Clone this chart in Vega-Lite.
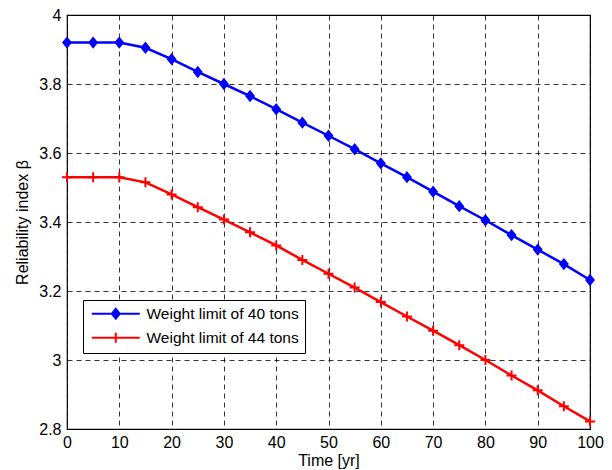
{
  "$schema": "https://vega.github.io/schema/vega-lite/v6.json",
  "width": 523,
  "height": 414,
  "autosize": "none",
  "padding": {"left": 67, "top": 15, "right": 22, "bottom": 41},
  "background": "white",
  "config": {
    "font": "Liberation Sans",
    "view": {"stroke": "black", "strokeWidth": 1.2}
  },
  "data": {
    "values": [
      {"t": 0, "beta": 3.92, "series": "Weight limit of 40 tons"},
      {"t": 5, "beta": 3.92, "series": "Weight limit of 40 tons"},
      {"t": 10, "beta": 3.92, "series": "Weight limit of 40 tons"},
      {"t": 15, "beta": 3.905, "series": "Weight limit of 40 tons"},
      {"t": 20, "beta": 3.872, "series": "Weight limit of 40 tons"},
      {"t": 25, "beta": 3.835, "series": "Weight limit of 40 tons"},
      {"t": 30, "beta": 3.80, "series": "Weight limit of 40 tons"},
      {"t": 35, "beta": 3.765, "series": "Weight limit of 40 tons"},
      {"t": 40, "beta": 3.727, "series": "Weight limit of 40 tons"},
      {"t": 45, "beta": 3.688, "series": "Weight limit of 40 tons"},
      {"t": 50, "beta": 3.65, "series": "Weight limit of 40 tons"},
      {"t": 55, "beta": 3.611, "series": "Weight limit of 40 tons"},
      {"t": 60, "beta": 3.57, "series": "Weight limit of 40 tons"},
      {"t": 65, "beta": 3.53, "series": "Weight limit of 40 tons"},
      {"t": 70, "beta": 3.488, "series": "Weight limit of 40 tons"},
      {"t": 75, "beta": 3.446, "series": "Weight limit of 40 tons"},
      {"t": 80, "beta": 3.405, "series": "Weight limit of 40 tons"},
      {"t": 85, "beta": 3.362, "series": "Weight limit of 40 tons"},
      {"t": 90, "beta": 3.32, "series": "Weight limit of 40 tons"},
      {"t": 95, "beta": 3.278, "series": "Weight limit of 40 tons"},
      {"t": 100, "beta": 3.232, "series": "Weight limit of 40 tons"},
      {"t": 0, "beta": 3.53, "series": "Weight limit of 44 tons"},
      {"t": 5, "beta": 3.53, "series": "Weight limit of 44 tons"},
      {"t": 10, "beta": 3.53, "series": "Weight limit of 44 tons"},
      {"t": 15, "beta": 3.515, "series": "Weight limit of 44 tons"},
      {"t": 20, "beta": 3.48, "series": "Weight limit of 44 tons"},
      {"t": 25, "beta": 3.443, "series": "Weight limit of 44 tons"},
      {"t": 30, "beta": 3.407, "series": "Weight limit of 44 tons"},
      {"t": 35, "beta": 3.37, "series": "Weight limit of 44 tons"},
      {"t": 40, "beta": 3.332, "series": "Weight limit of 44 tons"},
      {"t": 45, "beta": 3.29, "series": "Weight limit of 44 tons"},
      {"t": 50, "beta": 3.25, "series": "Weight limit of 44 tons"},
      {"t": 55, "beta": 3.21, "series": "Weight limit of 44 tons"},
      {"t": 60, "beta": 3.168, "series": "Weight limit of 44 tons"},
      {"t": 65, "beta": 3.126, "series": "Weight limit of 44 tons"},
      {"t": 70, "beta": 3.085, "series": "Weight limit of 44 tons"},
      {"t": 75, "beta": 3.043, "series": "Weight limit of 44 tons"},
      {"t": 80, "beta": 3.0, "series": "Weight limit of 44 tons"},
      {"t": 85, "beta": 2.955, "series": "Weight limit of 44 tons"},
      {"t": 90, "beta": 2.912, "series": "Weight limit of 44 tons"},
      {"t": 95, "beta": 2.866, "series": "Weight limit of 44 tons"},
      {"t": 100, "beta": 2.822, "series": "Weight limit of 44 tons"}
    ]
  },
  "encoding": {
    "x": {
      "field": "t",
      "type": "quantitative",
      "scale": {"domain": [0, 100], "nice": false},
      "axis": {
        "values": [0, 10, 20, 30, 40, 50, 60, 70, 80, 90, 100],
        "title": "Time [yr]",
        "grid": true,
        "gridDash": [5, 4],
        "gridColor": "black",
        "gridOpacity": 0.8,
        "gridWidth": 1,
        "ticks": false,
        "domain": false,
        "labelFontSize": 16,
        "labelColor": "black",
        "labelPadding": 5,
        "labelFlush": false,
        "titleFontSize": 16,
        "titleFontWeight": "normal",
        "titleColor": "black",
        "titlePadding": 2
      }
    },
    "y": {
      "field": "beta",
      "type": "quantitative",
      "scale": {"domain": [2.8, 4], "nice": false, "zero": false},
      "axis": {
        "values": [2.8, 3, 3.2, 3.4, 3.6, 3.8, 4],
        "format": "~g",
        "title": "Reliability index β",
        "grid": true,
        "gridDash": [5, 4],
        "gridColor": "black",
        "gridOpacity": 0.8,
        "gridWidth": 1,
        "ticks": false,
        "domain": false,
        "labelFontSize": 16,
        "labelColor": "black",
        "labelPadding": 6,
        "labelFlush": false,
        "titleFontSize": 16,
        "titleFontWeight": "normal",
        "titleColor": "black",
        "titlePadding": 8
      }
    },
    "color": {
      "field": "series",
      "type": "nominal",
      "scale": {
        "domain": ["Weight limit of 40 tons", "Weight limit of 44 tons"],
        "range": ["#0000ff", "#ff0000"]
      },
      "legend": {
        "title": null,
        "orient": "none",
        "legendX": 16,
        "legendY": 285,
        "padding": 6,
        "strokeColor": "black",
        "fillColor": "white",
        "labelFontSize": 15.5,
        "labelColor": "black",
        "labelOffset": 42,
        "symbolSize": 100,
        "symbolStrokeWidth": 2,
        "rowPadding": 5,
        "cornerRadius": 0,
        "encode": {
          "symbols": {
            "update": {
              "shape": {"signal": "datum.value === 'Weight limit of 40 tons' ? 'M-1,0H8.6M3.8,-1L4.6,0L3.8,1L3,0Z' : 'M-1,0H8.6M3.8,-1V1'"},
              "fill": {"signal": "datum.value === 'Weight limit of 40 tons' ? '#0000ff' : '#ff0000'"},
              "stroke": {"signal": "datum.value === 'Weight limit of 40 tons' ? '#0000ff' : '#ff0000'"},
              "strokeWidth": {"value": 2},
              "opacity": {"value": 1}
            }
          }
        }
      }
    }
  },
  "layer": [
    {"mark": {"type": "line", "strokeWidth": 2.5}},
    {
      "transform": [{"filter": "datum.series === 'Weight limit of 40 tons'"}],
      "mark": {"type": "point", "shape": "M0,-1L0.8,0L0,1L-0.8,0Z", "filled": true, "size": 100, "stroke": "#0000ff", "strokeWidth": 1.5, "opacity": 1}
    },
    {
      "transform": [{"filter": "datum.series === 'Weight limit of 44 tons'"}],
      "mark": {"type": "point", "shape": "M0,-1V1M-1,0H1", "filled": false, "size": 100, "strokeWidth": 2, "opacity": 1}
    }
  ]
}
